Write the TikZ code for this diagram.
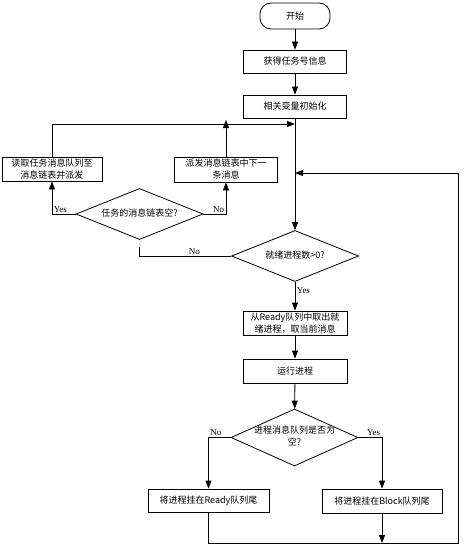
\documentclass[tikz,border=0pt]{standalone}
\usepackage{fontspec}
\setmainfont{Liberation Serif}
\newfontfamily\cjk{Noto Sans CJK SC}
\usetikzlibrary{shapes.geometric, arrows.meta}

% text of a decision, kept from widening the diamond
\newcommand{\dtext}[1]{\makebox[0pt]{\begin{tabular}{@{}c@{}}#1\end{tabular}}}

\begin{document}
\begin{tikzpicture}[x=1pt, y=-1pt, line width=0.8pt,
    box/.style={draw, rectangle, inner sep=1pt, align=center,
        font=\cjk\fontsize{9}{12}\selectfont},
    term/.style={draw, rectangle, rounded corners=11pt, minimum width=70pt,
        minimum height=26pt, font=\cjk\fontsize{9}{12}\selectfont},
    dec/.style={draw, diamond, inner sep=0pt, minimum width=127pt,
        font=\cjk\fontsize{9}{12}\selectfont},
    arr/.style={-{Triangle[length=8pt, width=6pt]}},
    lab/.style={font=\fontsize{9}{11}\selectfont, inner sep=1.5pt}]

    \useasboundingbox (0,0) rectangle (473,559);

    % Start and set-up
    \node[term] (start) at (295,16) {开始};
    \node[box, minimum width=103pt, minimum height=23pt] (info) at (295,61.5) {获得任务号信息};
    \node[box, minimum width=103pt, minimum height=23pt] (init) at (295,106.5) {相关变量初始化};

    % Task message list
    \node[box, minimum width=100pt, minimum height=24pt] (readq) at (52,169) {读取任务消息队列至\\消息链表并派发};
    \node[box, minimum width=103pt, minimum height=25pt] (next) at (226,169.5) {派发消息链表中下一\\条消息};
    \node[dec, minimum height=51pt] (empty) at (139.5,214) {\dtext{任务的消息链表空?}};

    % Ready processes
    \node[dec, minimum height=51pt] (ready) at (295,256) {\dtext{就绪进程数>0?}};
    \node[box, minimum width=104pt, minimum height=24pt] (take) at (295,323) {从Ready队列中取出就\\绪进程，取当前消息};
    \node[box, minimum width=104pt, minimum height=24pt] (run) at (295,371) {运行进程};
    \node[dec, minimum height=57pt] (msgq) at (294.5,437.5) {\dtext{进程消息队列是否为\\空?}};
    \node[box, minimum width=121pt, minimum height=23pt] (toready) at (208.5,500.5) {将进程挂在Ready队列尾};
    \node[box, minimum width=120pt, minimum height=24pt] (toblock) at (382,501) {将进程挂在Block队列尾};

    % Joints of the loops
    \coordinate (merge) at (295,124);
    \coordinate (back) at (295,173);
    \coordinate (corner) at (458,543);

    % Main line
    \draw[arr] (start) -- (info);
    \draw[arr] (info) -- (init);
    \draw[arr] (init) -- (ready);
    \draw[arr] (ready) -- node[lab, pos=0.3, anchor=west] {Yes} (take);
    \draw[arr] (take) -- (run);
    \draw[arr] (run) -- (msgq);

    % Branches of the task list
    \draw[arr] (empty.west) -| node[lab, pos=0.5, above right] {Yes} (readq.south);
    \draw[arr] (empty.east) -| node[lab, pos=0.5, above left] {No} (next.south);
    \draw[arr] (readq.north) |- (merge);
    \draw[arr] (next.north) -- ([yshift=4pt]next.north |- merge);
    \draw[shorten >=7pt] (ready.west) -| node[lab, pos=0.2, above] {No} (empty.south);

    % Branches of the process queue
    \draw[arr] (msgq.west) -| node[lab, pos=0.5, above right] {No} (toready.north);
    \draw[arr] (msgq.east) -| node[lab, pos=0.5, above left] {Yes} (toblock.north);
    \draw[arr] (toready.south) |- (corner) |- (back);
    \draw[arr] (toblock.south) -- (toblock.south |- corner);

\end{tikzpicture}
\end{document}
